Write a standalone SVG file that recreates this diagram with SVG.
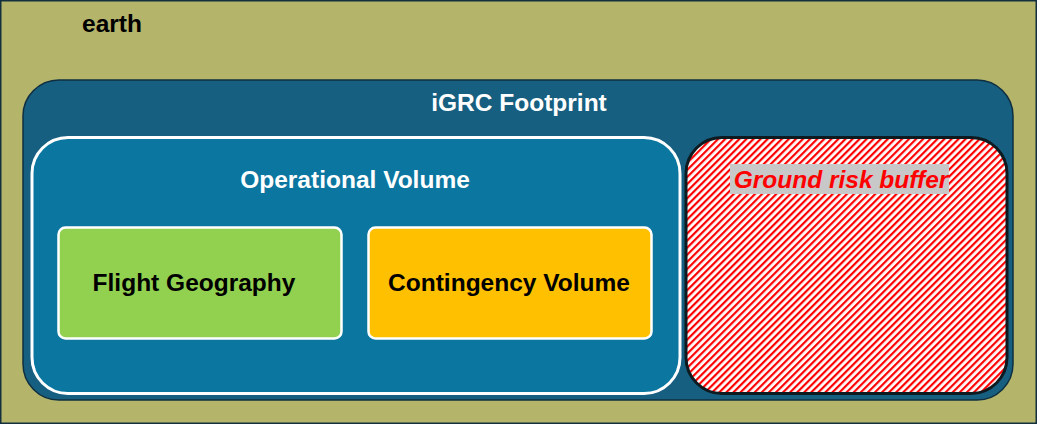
<svg xmlns="http://www.w3.org/2000/svg" width="1037" height="424" viewBox="0 0 1037 424">
<defs>
<style>
text{font-family:"Liberation Sans",Arial,sans-serif;font-weight:bold;font-size:24.5px;}
.w{fill:#ffffff;}
.k{fill:#000000;}
.inner{stroke:#ffffff;stroke-width:2.5;}
</style>
<pattern id="hatch" patternUnits="userSpaceOnUse" width="5" height="5" patternTransform="rotate(45)">
<rect width="5" height="5" fill="#ffffff"/>
<rect width="2.2" height="5" fill="#ff0000"/>
</pattern>
</defs>
<g id="earth">
<rect x="0.75" y="0.75" width="1035.5" height="422.5" fill="#b4b46b" stroke="#14303f" stroke-width="1.5"/>
<text x="82" y="32" class="k">earth</text>
</g>
<g id="igrc">
<rect x="23" y="80" width="990" height="320" rx="36" fill="#175f80" stroke="#0f2f40" stroke-width="1.5"/>
<text x="519" y="111" class="w" text-anchor="middle">iGRC Footprint</text>
</g>
<g id="operational">
<rect x="32" y="137.5" width="648" height="256" rx="36" fill="#0b76a0" stroke="#ffffff" stroke-width="3"/>
<text x="355" y="188" class="w" text-anchor="middle">Operational Volume</text>
</g>
<g id="flight">
<rect x="58.5" y="227.5" width="283" height="111" rx="7" fill="#92d050" class="inner"/>
<text x="194" y="291" class="k" text-anchor="middle">Flight Geography</text>
</g>
<g id="contingency">
<rect x="368.5" y="227.5" width="283" height="111" rx="7" fill="#ffc000" class="inner"/>
<text x="509" y="291" class="k" text-anchor="middle">Contingency Volume</text>
</g>
<g id="buffer">
<rect x="686" y="137.5" width="321" height="256" rx="36" fill="url(#hatch)" stroke="#0d1a20" stroke-width="3"/>
<rect x="730" y="164" width="219" height="30" fill="#c8c8c8"/>
<text x="841" y="188" fill="#ff0000" font-style="italic" text-anchor="middle">Ground risk buffer</text>
</g>
<g id="connectors"></g>
</svg>
